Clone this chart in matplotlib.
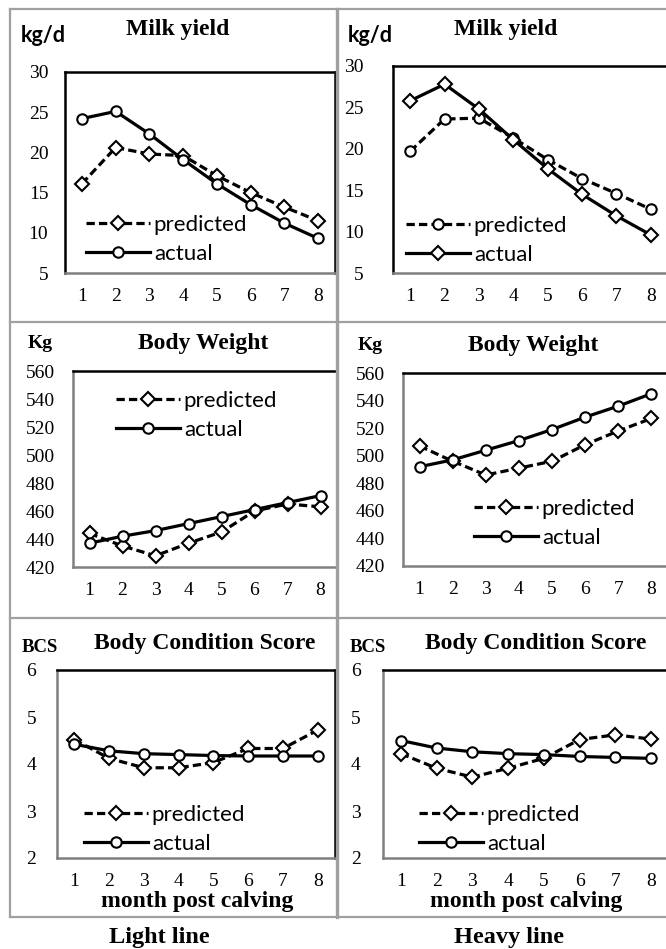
import matplotlib.pyplot as plt
from matplotlib.lines import Line2D

W, H = 666, 949

months = [1, 2, 3, 4, 5, 6, 7, 8]

light_milk_pred = [16.1, 20.6, 19.8, 19.6, 17.1, 15.0, 13.2, 11.5]
light_milk_act = [24.2, 25.1, 22.3, 19.1, 16.1, 13.5, 11.2, 9.3]
heavy_milk_pred = [19.7, 23.6, 23.7, 21.3, 18.7, 16.4, 14.6, 12.7]
heavy_milk_act = [25.8, 27.8, 24.8, 21.1, 17.6, 14.5, 11.9, 9.6]

light_bw_pred = [444, 435, 428, 437, 445, 460, 465, 463]
light_bw_act = [437, 442, 446, 451, 456, 461, 466, 471]
heavy_bw_pred = [507, 496, 486, 491, 496, 508, 518, 527]
heavy_bw_act = [492, 497, 504, 511, 519, 528, 536, 545]

light_bcs_pred = [4.52, 4.12, 3.92, 3.92, 4.03, 4.33, 4.33, 4.72]
light_bcs_act = [4.42, 4.28, 4.22, 4.20, 4.18, 4.17, 4.17, 4.17]
heavy_bcs_pred = [4.22, 3.91, 3.72, 3.91, 4.12, 4.52, 4.62, 4.53]
heavy_bcs_act = [4.50, 4.34, 4.26, 4.22, 4.20, 4.16, 4.14, 4.12]

milk_ticks = [5, 10, 15, 20, 25, 30]
bw_ticks = [420, 440, 460, 480, 500, 520, 540, 560]
bcs_ticks = [2, 3, 4, 5, 6]

SERIF = 'Liberation Serif'
SANS = 'Lato'
GRAY = '#a0a0a0'

fig = plt.figure(figsize=(W / 100, H / 100), dpi=100)


def fx(x):
    return x / W


def fy(y):
    return 1 - y / H


def make_ax(x0, y0, x1, y1, ylim, yticks, ypad, left_black=False):
    ax = fig.add_axes([fx(x0), fy(y1), fx(x1) - fx(x0), fy(y0) - fy(y1)])
    ax.set_xlim(0.5, 8.5)
    ax.set_ylim(*ylim)
    ax.set_xticks(months)
    ax.set_yticks(yticks)
    ax.tick_params(length=0, labelsize=14)
    ax.tick_params(axis='x', pad=11)
    ax.tick_params(axis='y', pad=ypad)
    for lab in ax.get_xticklabels() + ax.get_yticklabels():
        lab.set_fontfamily(SERIF)
    for s in ['top', 'right']:
        ax.spines[s].set_color('black')
        ax.spines[s].set_linewidth(1.8)
    ax.spines['bottom'].set_color('#808080')
    ax.spines['bottom'].set_linewidth(1.8)
    ax.spines['left'].set_color('black' if left_black else '#808080')
    ax.spines['left'].set_linewidth(1.8)
    return ax


def draw(ax, pred, act, pred_m, act_m, leg_x, leg_y):
    kw = dict(color='black', lw=2.3, markersize=7.5, markerfacecolor='white',
              markeredgecolor='black', markeredgewidth=1.5)
    ax.plot(months, pred, ls=(0, (2.6, 1.3)), marker=pred_m,
            label='predicted', **kw)
    ax.plot(months, act, ls='-', marker=act_m, label='actual', **kw)
    ax.legend(loc='upper left', bbox_to_anchor=(fx(leg_x), fy(leg_y)),
              bbox_transform=fig.transFigure, frameon=False,
              prop={'family': SANS, 'size': 16}, handlelength=2.9,
              handletextpad=0.15, borderpad=0, borderaxespad=0,
              labelspacing=0.4)


# row 1: milk yield
ax = make_ax(65, 72, 335, 273, (5, 30), milk_ticks, 12, left_black=True)
draw(ax, light_milk_pred, light_milk_act, 'D', 'o', 86, 215)
ax = make_ax(393, 66, 668, 273, (5, 30), milk_ticks, 21, left_black=True)
draw(ax, heavy_milk_pred, heavy_milk_act, 'o', 'D', 406, 216)

# row 2: body weight
ax = make_ax(73, 371, 337, 567, (420, 560), bw_ticks, 13)
draw(ax, light_bw_pred, light_bw_act, 'D', 'o', 116, 391)
ax = make_ax(403, 373, 668, 566, (420, 560), bw_ticks, 13)
draw(ax, heavy_bw_pred, heavy_bw_act, 'D', 'o', 474, 499)

# row 3: body condition score
ax = make_ax(57, 670, 335, 858, (2, 6), bcs_ticks, 15)
draw(ax, light_bcs_pred, light_bcs_act, 'D', 'o', 84, 805)
ax = make_ax(383, 670, 669, 858, (2, 6), bcs_ticks, 16)
draw(ax, heavy_bcs_pred, heavy_bcs_act, 'D', 'o', 419, 805)


def text(x, y, s, size, family=SERIF):
    fig.text(fx(x), fy(y), s, ha='center', va='center', fontsize=size,
             fontweight='bold', family=family)


text(178, 30, 'Milk yield', 17)
text(506, 30, 'Milk yield', 17)
text(43, 36, 'kg/d', 15.5, SANS)
text(370, 36, 'kg/d', 15.5, SANS)
text(203, 343, 'Body Weight', 17)
text(533, 345, 'Body Weight', 17)
text(40, 344, 'Kg', 14)
text(370, 346, 'Kg', 14)
text(205, 643, 'Body Condition Score', 17)
text(536, 643, 'Body Condition Score', 17)
text(40, 648, 'BCS', 13.5)
text(368, 648, 'BCS', 13.5)
text(197, 902, 'month post calving', 17)
text(526, 902, 'month post calving', 17)
text(159, 938, 'Light line', 17.5)
text(509, 938, 'Heavy line', 17.5)

# panel frames
def hline(y, x0, x1, lw=1.6):
    fig.add_artist(Line2D([fx(x0), fx(x1)], [fy(y), fy(y)], color=GRAY, lw=lw))


def vline(x, y0, y1, lw=1.6):
    fig.add_artist(Line2D([fx(x), fx(x)], [fy(y0), fy(y1)], color=GRAY, lw=lw))


for y in [9, 322, 618, 917]:
    hline(y, 10, 666)
vline(10, 9, 917)
vline(337, 9, 917, lw=2.4)

fig.savefig('out.png', dpi=100)
